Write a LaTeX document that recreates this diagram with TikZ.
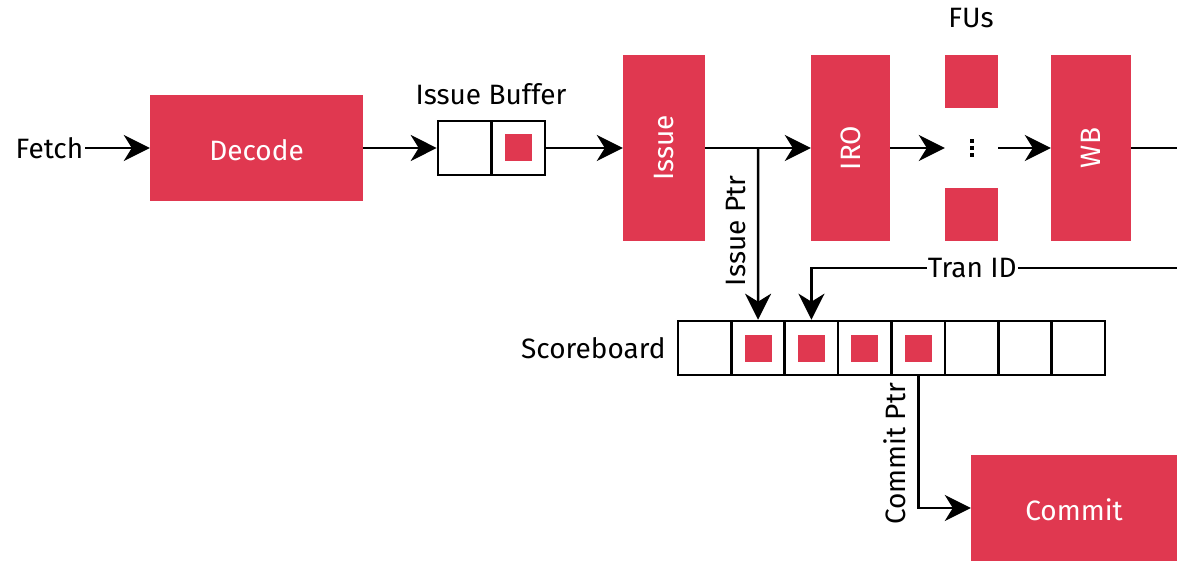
\documentclass[tikz,border=0pt]{standalone}
\usepackage{fontspec}
\setmainfont{Fira Sans}
\usetikzlibrary{arrows.meta,positioning}
\definecolor{stagered}{RGB}{224,56,80}
\newcommand{\lowtext}[1]{\raisebox{-12.5pt}[0pt][0pt]{#1}}
\begin{document}
\begin{tikzpicture}[x=1pt,y=-1pt,
  every node/.style={font=\fontsize{28}{32}\selectfont},
  stage/.style={fill=stagered,draw=none,text=white,inner sep=0pt},
  cell/.style={draw,line width=2.6pt,inner sep=0pt,minimum width=53.4pt,minimum height=54pt},
  token/.style={fill=stagered,inner sep=0pt,minimum size=27pt},
  wire/.style={line width=2.6pt},
  arr/.style={wire,-{Stealth[length=26pt,width=26pt,inset=8pt]}},
  lbl/.style={inner sep=2pt}
]
\useasboundingbox (0,0) rectangle (1177,561);

% pipeline stages
\node[lbl] (fetch) at (49.5,148) {Fetch};
\node[stage,minimum width=213pt,minimum height=106pt] (decode) at (256.5,148) {\lowtext{Decode}};

% issue buffer
\node[cell] (buf1) at (464.7,148) {};
\node[cell] (buf2) at (518.1,148) {};
\node[token] (buftok) at (518.1,148) {};
\node[lbl] (buflbl) at (491,94) {Issue Buffer};

\node[stage,minimum width=82pt,minimum height=186pt] (issue) at (664,148) {\rotatebox{90}{Issue}};
\node[stage,minimum width=79pt,minimum height=186pt] (iro) at (850.5,148) {\rotatebox{90}{IRO}};

% functional units
\node[stage,minimum width=53pt,minimum height=53pt] (futop) at (971.5,81.5) {};
\node[stage,minimum width=53pt,minimum height=53pt] (fubot) at (971.5,214.5) {};
\node[inner sep=0pt,minimum width=53pt,minimum height=20pt] (fu) at (971.5,148) {};
\foreach \yy in {141,148,155} \fill (970,\yy-1.7) rectangle (973.5,\yy+1.7);
\node[lbl] (fulbl) at (971,18) {FUs};

\node[stage,minimum width=80pt,minimum height=186pt] (wb) at (1091,148) {\rotatebox{90}{WB}};

% scoreboard
\foreach \i in {1,...,8} \node[cell] (sb\i) at (678+26.7+53.375*\i-53.375,348) {};
\foreach \i in {2,...,5} \node[token] (sbtok\i) at (sb\i) {};
\node[lbl,left=9pt of sb1] (sblbl) {Scoreboard};

\node[stage,minimum width=206pt,minimum height=106pt] (commit) at (1074,508) {\lowtext{Commit}};

% connectors
\coordinate (br) at (758.1,148);
\coordinate (wbout) at (1177,148);
\coordinate (tranin) at (1177,268);

\draw[arr] (fetch) -- (decode);
\draw[arr] (decode) -- (buf1);
\draw[arr] (buf2) -- (issue);
\draw[arr] (issue) -- (iro);
\draw[arr] (br) -- (sb2.north);
\draw[arr] (iro) -- (fu);
\draw[arr] (fu) -- (wb);
\draw[wire] (wb) -- (wbout);
\draw[arr] (tranin) -| node[pos=0.28,fill=white,inner sep=1pt] (tranlbl) {Tran ID} (sb3.north);
\draw[arr] (sb5.south) |- (commit.west);

\node[lbl,rotate=90] (issueptr) at (736,231) {Issue Ptr};
\node[lbl,rotate=90] (commitptr) at (895,454) {Commit Ptr};
\end{tikzpicture}
\end{document}
